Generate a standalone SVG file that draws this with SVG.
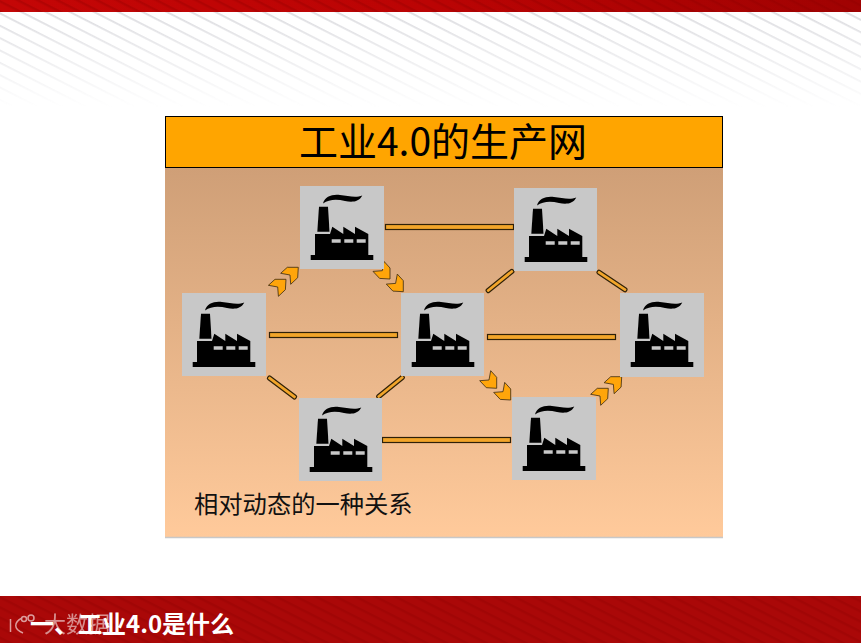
<svg xmlns="http://www.w3.org/2000/svg" width="861" height="643" viewBox="0 0 861 643">
<style>
.cjk{font-family:"Noto Sans CJK SC","Liberation Sans",sans-serif}
.tile{fill:#c8c8c8}
.bar{fill:#f2a52a;stroke:#2e2008;stroke-width:1.200}
.chev{fill:#ffa50a;stroke:#3a2a10;stroke-width:.8;stroke-linejoin:miter}
</style>
<defs>
<linearGradient id="panel" x1="0" y1="0" x2="0" y2="1"><stop offset="0" stop-color="#cf9f77"/><stop offset="1" stop-color="#ffca9b"/></linearGradient>
<linearGradient id="fade" x1="0" y1="0" x2="0" y2="1"><stop offset="0" stop-color="#fff"/><stop offset="1" stop-color="#000"/></linearGradient>
<linearGradient id="red" x1="0" y1="0" x2="1" y2="0"><stop offset="0" stop-color="#c40606"/><stop offset=".5" stop-color="#bb0404"/><stop offset="1" stop-color="#a00202"/></linearGradient>
<mask id="fadeMask" maskUnits="userSpaceOnUse" x="0" y="12" width="861" height="95"><rect x="0" y="12" width="861" height="95" fill="url(#fade)"/></mask>
<pattern id="stripes" width="26" height="11" patternUnits="userSpaceOnUse" patternTransform="rotate(27)"><rect width="26" height="1.800" fill="#dcdce0"/></pattern>
<pattern id="redStripes" width="26" height="9" patternUnits="userSpaceOnUse" patternTransform="rotate(27)"><rect width="26" height="2.400" fill="#8c0000" opacity=".3"/></pattern>
<g id="factory">
<path fill="#000" d="M10.700 69H15V48H30L32.300 40.700L43.300 48V40.700L55 48V40.700L68.300 48V69H73.300V74H10.700Z"/>
<path fill="#000" d="M19 20.700H28L29.500 45.700H17.300Z"/>
<path fill="#c8c8c8" d="M31.700 53.300h9v3.400h-9zM44.300 53.300h9v3.400h-9zM56.700 53.300h9v3.400h-9z"/>
<path fill="#000" d="M23 17.500C25 10.500 32 8 40 9C48 10 56 12 62.300 9.500C59 16 52 16.500 45 15C36 13 29 13.500 23 17.500Z"/>
</g>
<path id="chevron" class="chev" d="M0 0H-11L-17.600 6L-8.300 7.700L-7.600 17L-.6 10.400Z"/>
</defs>
<rect width="861" height="643" fill="#fff"/>
<g id="header">
<rect x="0" y="12" width="861" height="95" fill="url(#stripes)" mask="url(#fadeMask)"/>
<rect x="0" y="0" width="861" height="12" fill="url(#red)"/>
<rect x="0" y="0" width="861" height="12" fill="url(#redStripes)"/>
</g>
<g id="panel-body"><rect x="165" y="168" width="558" height="369" fill="url(#panel)"/><path d="M165 537.500H723" stroke="#c8c8c8" stroke-width="1.500"/></g>
<g id="title"><rect x="165.500" y="116.500" width="557" height="51" fill="#ffa500" stroke="#000" stroke-width="1"/><text class="cjk" x="443" y="156" font-size="39" text-anchor="middle" fill="#000">工业4.0的生产网</text></g>
<g id="connectors">
<rect class="bar" x="385.500" y="224.500" width="128" height="5"/>
<rect class="bar" x="269.500" y="332.500" width="128" height="5"/>
<rect class="bar" x="487.500" y="334.500" width="128" height="5"/>
<rect class="bar" x="382.500" y="437.500" width="128" height="5"/>
<rect class="bar" x="-17" y="-2" width="34" height="4" rx="1.500" transform="translate(500 281) rotate(-39)"/>
<rect class="bar" x="-17.500" y="-2" width="35" height="4" rx="1.500" transform="translate(612 281) rotate(34)"/>
<rect class="bar" x="-17.500" y="-2" width="35" height="4" rx="1.500" transform="translate(282 387.500) rotate(37)"/>
<rect class="bar" x="-17" y="-2" width="34" height="4" rx="1.500" transform="translate(390.500 387) rotate(-39)"/>
<use href="#chevron" transform="translate(298.300 267.300)"/>
<use href="#chevron" transform="translate(286 279.300)"/>
<use href="#chevron" transform="translate(390 279) rotate(90)"/>
<use href="#chevron" transform="translate(403.300 291.700) rotate(90)"/>
<use href="#chevron" transform="translate(496.700 388.300) rotate(90)"/>
<use href="#chevron" transform="translate(510.700 400) rotate(90)"/>
<use href="#chevron" transform="translate(621.700 376.700)"/>
<use href="#chevron" transform="translate(608.300 388.300)"/>
</g>
<g id="node-1"><rect class="tile" x="300" y="186" width="84" height="83"/><use href="#factory" x="300" y="186"/></g>
<g id="node-2"><rect class="tile" x="514" y="188" width="83" height="83"/><use href="#factory" x="514" y="188"/></g>
<g id="node-3"><rect class="tile" x="182" y="293" width="84" height="83"/><use href="#factory" x="182" y="293"/></g>
<g id="node-4"><rect class="tile" x="401" y="293" width="83" height="83"/><use href="#factory" x="401" y="293"/></g>
<g id="node-5"><rect class="tile" x="620" y="293" width="84" height="84"/><use href="#factory" x="620" y="293"/></g>
<g id="node-6"><rect class="tile" x="299" y="398" width="83" height="83"/><use href="#factory" x="299" y="398"/></g>
<g id="node-7"><rect class="tile" x="512" y="397" width="84" height="83"/><use href="#factory" x="512" y="397"/></g>
<text class="cjk" x="194" y="513" font-size="24.300" fill="#111">相对动态的一种关系</text>
<g id="footer">
<rect x="0" y="596" width="861" height="47" fill="#aa0808"/>
<rect x="0" y="596" width="861" height="47" fill="url(#redStripes)"/>
<text class="cjk" x="30" y="633" font-size="24" font-weight="700" fill="#fff">一、工业4.0是什么</text>
<g fill="none" stroke="#fff" stroke-width="1.500" opacity=".6"><path d="M10.500 619V632M22 618C14 622 13 629 23 633"/><circle cx="24" cy="619" r="2.500"/><circle cx="31" cy="618" r="3"/></g>
<text class="cjk" x="44" y="632" font-size="22" fill="#fff" opacity=".55">大数据</text>
</g>
</svg>
